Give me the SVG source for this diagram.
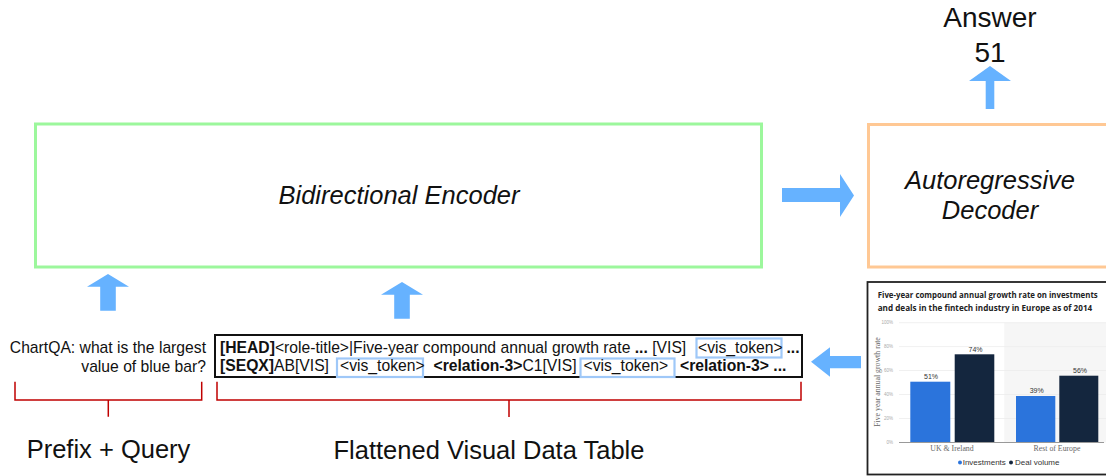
<svg xmlns="http://www.w3.org/2000/svg" width="1106" height="476" viewBox="0 0 1106 476">
  <style>
    .sans { font-family: "Liberation Sans", Arial, sans-serif; }
    .block-label { font-family: "Liberation Sans", Arial, sans-serif; font-size: 25.5px; font-style: italic; fill: #111; text-anchor: middle; }
    .caption { font-family: "Liberation Sans", Arial, sans-serif; font-size: 25.5px; fill: #111; text-anchor: middle; }
    .seq { font-family: "Liberation Sans", Arial, sans-serif; font-size: 15.7px; fill: #111; }
    .b { font-weight: bold; }
    .arrow { fill: #66b2ff; }
    .brace { fill: none; stroke: #c00000; stroke-width: 1.5; }
    .tok { fill: none; stroke: #9fc8f8; stroke-width: 2.2; }
    .tick { font-family: "Liberation Sans", Arial, sans-serif; font-size: 4.5px; fill: #aaa; text-anchor: end; }
    .grid { stroke: #ececec; stroke-width: 0.8; }
    .cat { font-family: "Liberation Serif", "Times New Roman", serif; font-size: 7.8px; fill: #666; text-anchor: middle; }
    .val { font-family: "Liberation Sans", Arial, sans-serif; font-size: 7px; fill: #333; text-anchor: middle; }
  </style>

  <!-- encoder block -->
  <g id="encoder">
    <rect x="35.5" y="124" width="726" height="143" fill="#fff" stroke="#9cf79c" stroke-width="3"/>
    <text class="block-label" x="399" y="204">Bidirectional Encoder</text>
  </g>

  <!-- decoder block (runs off the right edge) -->
  <g id="decoder">
    <rect x="868.5" y="124.5" width="260" height="142.5" fill="#fff" stroke="#ffc894" stroke-width="3"/>
    <text class="block-label" x="990" y="188.5">Autoregressive</text>
    <text class="block-label" x="990" y="219">Decoder</text>
  </g>

  <!-- output -->
  <g id="answer">
    <text class="sans" x="990" y="27" font-size="28" fill="#111" text-anchor="middle">Answer</text>
    <text class="sans" x="990" y="62" font-size="28" fill="#111" text-anchor="middle">51</text>
  </g>

  <!-- question text -->
  <g id="query">
    <text class="seq" x="206" y="353" text-anchor="end" fill="#222" font-size="15.8">ChartQA: what is the largest</text>
    <text class="seq" x="206" y="372" text-anchor="end" fill="#222" font-size="15.8">value of blue bar?</text>
  </g>

  <!-- flattened table sequence -->
  <g id="table-sequence">
    <rect x="215" y="335" width="587" height="42" fill="#fff" stroke="#111" stroke-width="2"/>
    <rect class="tok" x="696.5" y="338.5" width="85" height="19"/>
    <rect class="tok" x="337" y="358.5" width="86" height="18.5"/>
    <rect class="tok" x="580.5" y="358.5" width="94" height="18.5"/>
    <text class="seq" y="353">
      <tspan x="220" class="b">[HEAD]</tspan><tspan>&lt;role-title&gt;|Five-year compound annual growth rate </tspan><tspan class="b">...</tspan><tspan> [VIS]</tspan>
      <tspan x="698">&lt;vis_token&gt;</tspan>
      <tspan x="786.5" class="b">...</tspan>
    </text>
    <text class="seq" y="371">
      <tspan x="220" class="b">[SEQX]</tspan><tspan>AB[VIS]</tspan>
      <tspan x="340">&lt;vis_token&gt;</tspan>
      <tspan x="433.5" class="b">&lt;relation-3&gt;</tspan><tspan>C1[VIS]</tspan>
      <tspan x="583.5">&lt;vis_token&gt;</tspan>
      <tspan x="680" class="b">&lt;relation-3&gt; ...</tspan>
    </text>
  </g>

  <!-- chart image -->
  <g id="chart">
    <rect x="867.5" y="282" width="260" height="192.5" fill="#fff" stroke="#222" stroke-width="1.8"/>
    <text font-family="'Open Sans', 'Liberation Sans', sans-serif" font-weight="bold" font-size="8" fill="#222">
      <tspan x="877.7" y="298.3" textLength="220" lengthAdjust="spacingAndGlyphs">Five-year compound annual growth rate on investments</tspan>
      <tspan x="877.7" y="310.7" textLength="214.5" lengthAdjust="spacingAndGlyphs">and deals in the fintech industry in Europe as of 2014</tspan>
    </text>
    <rect x="1004.3" y="322.7" width="110" height="119.8" fill="#f6f6f6"/>
    <line class="grid" x1="899" y1="322.7" x2="1106" y2="322.7"/>
    <line class="grid" x1="899" y1="346.6" x2="1106" y2="346.6"/>
    <line class="grid" x1="899" y1="370.5" x2="1106" y2="370.5"/>
    <line class="grid" x1="899" y1="394.5" x2="1106" y2="394.5"/>
    <line class="grid" x1="899" y1="418.5" x2="1106" y2="418.5"/>
    <text class="tick" x="893" y="324.3">100%</text>
    <text class="tick" x="893" y="348.2">80%</text>
    <text class="tick" x="893" y="372.1">60%</text>
    <text class="tick" x="893" y="396.1">40%</text>
    <text class="tick" x="893" y="420.1">20%</text>
    <text class="tick" x="893" y="444.1">0%</text>
    <text class="cat" transform="translate(879.5 382) rotate(-90)" fill="#aaa">Five year annual growth rate</text>
    <rect x="910.3" y="381.7" width="40" height="60.8" fill="#2b74dc"/>
    <rect x="954.7" y="354.3" width="39.6" height="88.2" fill="#14263e"/>
    <rect x="1016" y="396" width="39.3" height="46.5" fill="#2b74dc"/>
    <rect x="1059.3" y="375.7" width="39" height="66.8" fill="#14263e"/>
    <line x1="899" y1="442.5" x2="1104" y2="442.5" stroke="#999" stroke-width="1"/>
    <text class="val" x="931" y="379">51%</text>
    <text class="val" x="975.5" y="351.7">74%</text>
    <text class="val" x="1036.7" y="393.3">39%</text>
    <text class="val" x="1080" y="373.3">56%</text>
    <text class="cat" x="952" y="450.5">UK &amp; Ireland</text>
    <text class="cat" x="1057" y="450.5">Rest of Europe</text>
    <circle cx="960" cy="462.6" r="2" fill="#2b74dc"/>
    <text class="sans" x="962.7" y="465.3" font-size="8" fill="#333">Investments</text>
    <circle cx="1011" cy="462.6" r="2" fill="#14263e"/>
    <text class="sans" x="1015" y="465.3" font-size="8" fill="#333">Deal volume</text>
  </g>

  <!-- bottom captions -->
  <g id="prefix-label">
    <text class="caption" x="108.5" y="458">Prefix + Query</text>
  </g>
  <g id="table-label">
    <text class="caption" x="489" y="459">Flattened Visual Data Table</text>
  </g>

  <!-- connectors: flow arrows and grouping brackets -->
  <g id="connectors">
    <polygon class="arrow" points="108,274 129,286.7 115.8,286.7 115.8,310.7 100.2,310.7 100.2,286.7 87,286.7"/>
    <polygon class="arrow" points="402,282 423,294.7 409.8,294.7 409.8,318.7 394.2,318.7 394.2,294.7 381,294.7"/>
    <polygon class="arrow" points="782,188 840,188 840,174 854,195.5 840,217 840,202 782,202"/>
    <polygon class="arrow" points="990,66 1011,81 994.3,81 994.3,109 985.7,109 985.7,81 969,81"/>
    <polygon class="arrow" points="811,361.7 830,347.3 830,356 861,356 861,368.3 830,368.3 830,376.7"/>
    <path class="brace" d="M15,381.7 V400 H201.7 V381.7 M108.3,400 V416.7"/>
    <path class="brace" d="M217,381.7 V400 H801 V381.7 M509,400 V417"/>
  </g>
</svg>
